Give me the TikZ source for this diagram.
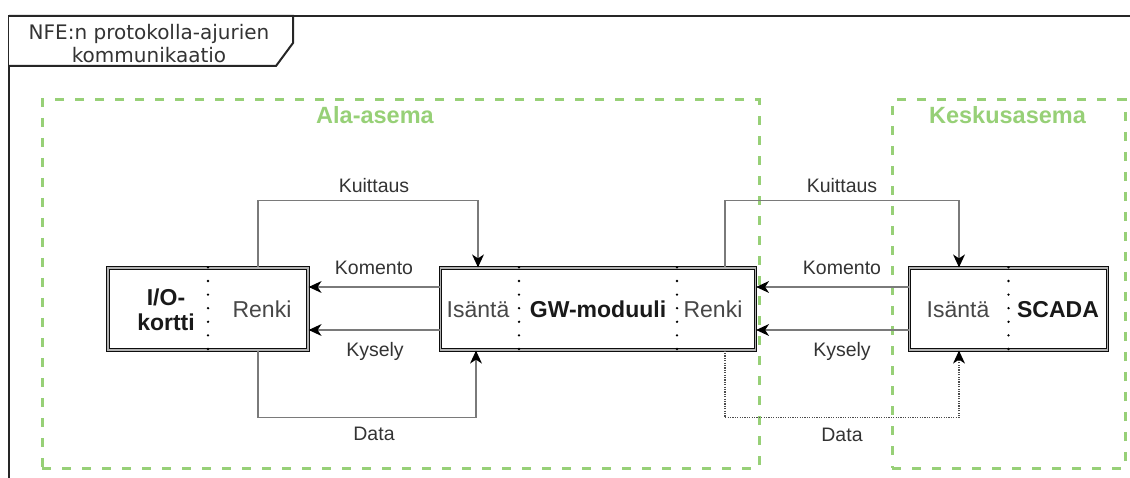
\documentclass[tikz,border=0pt]{standalone}
\usepackage{fontspec}
\setmainfont{Liberation Sans}
\newfontfamily\titlefont{DejaVu Sans}
\usetikzlibrary{arrows.meta}
\definecolor{zonegreen}{HTML}{97D077}
\definecolor{msggray}{HTML}{333333}
\definecolor{linegray}{HTML}{7A7A7A}
\tikzset{
	frame/.style = {draw=black!85, line width=2pt},
	box/.style = {draw=black!95, fill=white, line width=1.2pt, double=gray!60,
		double distance=1.1pt, minimum height=82pt, inner sep=0pt},% laite
	cell/.style = {font=\fontsize{23}{25}\selectfont, text=black!72,
		anchor=base, inner sep=0pt},% lohkon teksti
	cell_b/.style = {cell, font=\fontsize{23}{25}\selectfont\bfseries,
		text=black!90},% lohkon nimi
	divider/.style = {line width=2.6pt, line cap=round,
		dash pattern=on 0pt off 13.6pt},
	zone/.style = {draw=zonegreen, line width=3pt,
		dash pattern=on 9pt off 11pt, inner sep=0pt},% asema
	zone_l/.style = {font=\fontsize{23.5}{25}\selectfont\bfseries,
		text=zonegreen, anchor=base, inner sep=0pt},
	msg/.style = {font=\fontsize{19.5}{22}\selectfont, text=msggray,
		anchor=base, inner sep=0pt},% viestin nimi
	tip/.style = {-{Stealth[length=13pt,width=12pt,inset=4pt,
		line width=0pt,color=black]}},
	cmd/.style = {tip, draw=linegray, line width=2.4pt},% komento / kysely
	ack/.style = {tip, draw=linegray, line width=1.2pt},% kuittaus / data
	ack_d/.style = {ack, draw=black!70, dash pattern=on 1.2pt off 1.2pt}
}

\begin{document}
\begin{tikzpicture}[x=1pt,y=-1pt]
	\useasboundingbox (0,0) rectangle (1130,478);
	\clip (0,0) rectangle (1130,478);
	% kehys ja otsikko
	\draw[frame] (9,16) rectangle (1150,500);
	\draw[frame, fill=white] (9,16) -- (293,16) -- (293,43) -- (276,66) -- (9,66);
	\node[font=\titlefont\fontsize{20}{22.4}\selectfont, text=msggray,
		align=center, anchor=north, inner sep=0pt] (title) at (149,24.5)
		{NFE:n protokolla-ajurien\\kommunikaatio};
	% asemat
	\node[zone, minimum width=717pt, minimum height=368pt] (ala) at (400.5,284) {};
	\node[zone, minimum width=233pt, minimum height=368pt] (kesk) at (1008.5,284) {};
	\node[zone_l] (ala_l) at (375,123.5) {Ala-asema};
	\node[zone_l] (kesk_l) at (1007.5,123.5) {Keskusasema};
	% laitteet
	\node[box, minimum width=200pt] (io) at (208,309) {};
	\node[box, minimum width=315pt] (gw) at (598,309) {};
	\node[box, minimum width=198pt] (scada) at (1008.5,309) {};
	\draw[divider] (io.north) -- (io.south);
	\draw[divider] ([xshift=-79pt]gw.north) -- ([xshift=-79pt]gw.south);
	\draw[divider] ([xshift=79pt]gw.north) -- ([xshift=79pt]gw.south);
	\draw[divider] (scada.north) -- (scada.south);
	\node[cell_b, anchor=center, align=center] (io_l) at (166,310) {I/O-\\kortti};
	\node[cell] (io_r) at (262,318) {Renki};
	\node[cell] (gw_l) at (478,318) {Isäntä};
	\node[cell_b] (gw_m) at (598,318) {GW-moduuli};
	\node[cell] (gw_r) at (713,318) {Renki};
	\node[cell] (scada_l) at (958,318) {Isäntä};
	\node[cell_b] (scada_r) at (1058,318) {SCADA};
	% viestit: ala-asema
	\draw[ack] ([xshift=50pt]io.north) -- ++(0,-67) -| ([xshift=-120pt]gw.north);
	\draw[cmd] ([yshift=22pt]gw.west) -- ([yshift=22pt]io.east);
	\draw[cmd] ([yshift=-21pt]gw.west) -- ([yshift=-21pt]io.east);
	\draw[ack] ([xshift=50pt]io.south) -- ++(0,67) -| ([xshift=-122pt]gw.south);
	\node[msg] (ack_a) at (374,193) {Kuittaus};
	\node[msg] (cmd_a) at (374,275) {Komento};
	\node[msg] (req_a) at (375,356) {Kysely};
	\node[msg] (dat_a) at (374,440) {Data};
	% viestit: keskusasema
	\draw[ack] ([xshift=127pt]gw.north) -- ++(0,-67) -| ([xshift=-49.5pt]scada.north);
	\draw[cmd] ([yshift=22pt]scada.west) -- ([yshift=22pt]gw.east);
	\draw[cmd] ([yshift=-21pt]scada.west) -- ([yshift=-21pt]gw.east);
	\draw[ack_d] ([xshift=127pt]gw.south) -- ++(0,67) -| ([xshift=-49.5pt]scada.south);
	\node[msg] (ack_k) at (842,193) {Kuittaus};
	\node[msg] (cmd_k) at (842,275) {Komento};
	\node[msg] (req_k) at (842,356) {Kysely};
	\node[msg] (dat_k) at (842,441) {Data};
\end{tikzpicture}
\end{document}
